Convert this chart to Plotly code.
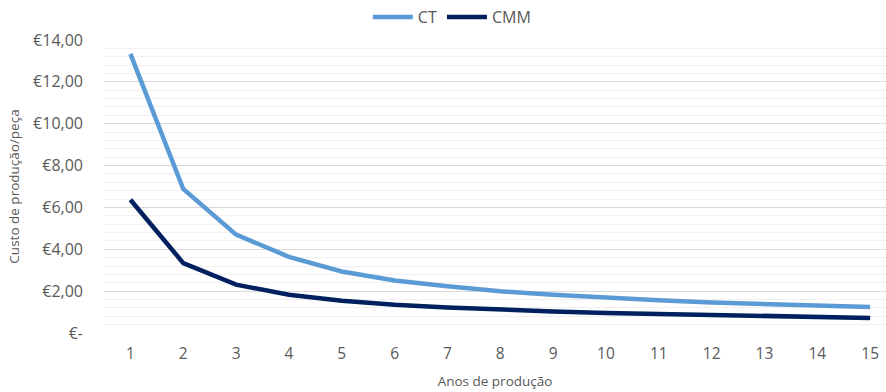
import plotly.graph_objects as go

# Production years and unit cost per part (EUR)
anos = list(range(1, 16))
custo_ct = [13.34, 6.88, 4.70, 3.64, 2.94, 2.51, 2.23, 1.99, 1.83, 1.67, 1.56, 1.46, 1.38, 1.30, 1.24]
custo_cmm = [6.37, 3.34, 2.31, 1.83, 1.54, 1.35, 1.22, 1.11, 1.03, 0.96, 0.91, 0.84, 0.79, 0.75, 0.72]

y_tickvals = [0, 2, 4, 6, 8, 10, 12, 14]
y_ticktext = ["€-", "€2,00", "€4,00", "€6,00", "€8,00", "€10,00", "€12,00", "€14,00"]

font_family = "Open Sans"
text_color = "#595959"

fig = go.Figure()
fig.add_trace(go.Scatter(
    x=anos, y=custo_ct, name="CT", mode="lines",
    line=dict(color="#5B9BD5", width=4.5),
))
fig.add_trace(go.Scatter(
    x=anos, y=custo_cmm, name="CMM", mode="lines",
    line=dict(color="#002060", width=4.5),
))

fig.update_layout(
    width=886, height=392,
    margin=dict(l=104, r=0, t=40, b=59, autoexpand=False),
    paper_bgcolor="white", plot_bgcolor="white",
    font=dict(family=font_family, color=text_color, size=16),
    showlegend=True,
    legend=dict(
        orientation="h", xref="container", yref="container",
        x=0.51, xanchor="center", y=1.0, yanchor="top",
        font=dict(size=16, color=text_color),
        itemwidth=40, tracegroupgap=0,
    ),
    xaxis=dict(
        range=[0.5, 15.3], tickmode="array", tickvals=anos,
        ticktext=[str(a) for a in anos],
        showgrid=False, zeroline=False, showline=False,
        ticks="", ticklabelstandoff=9,
        tickfont=dict(size=15.5, color=text_color),
        title=dict(text="Anos de produção", font=dict(size=13.5, color=text_color), standoff=14),
    ),
    yaxis=dict(
        range=[0, 14], tickmode="array", tickvals=y_tickvals, ticktext=y_ticktext,
        showgrid=True, gridcolor="#d9d9d9", gridwidth=1,
        minor=dict(dtick=0.4, showgrid=True, gridcolor="#f0f0f0", gridwidth=1, tick0=0),
        zeroline=False, showline=False, ticks="",
        ticklabelstandoff=20,
        tickfont=dict(size=16, color=text_color),
        title=dict(text="Custo de produção/peça", font=dict(size=13.5, color=text_color), standoff=10),
    ),
)

fig.write_html("out.html")
